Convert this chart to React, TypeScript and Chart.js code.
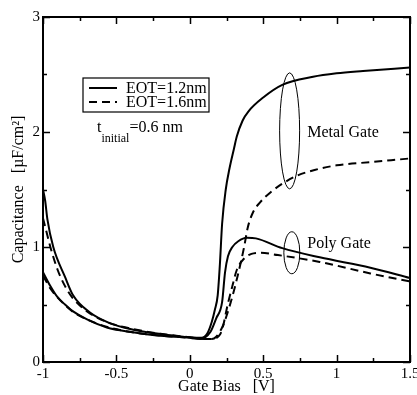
import React, { useEffect, useRef } from "react";
import { Chart, registerables } from "chart.js";

Chart.register(...registerables);

// ---- data (Gate bias [V] vs Capacitance [uF/cm2]) ----
const metal12V = [-1, -0.985, -0.97, -0.93, -0.85, -0.795, -0.68, -0.55, -0.45, -0.3, -0.115, 0, 0.08, 0.12, 0.15, 0.17, 0.19, 0.205, 0.22, 0.245, 0.27, 0.3, 0.32, 0.36, 0.4, 0.5, 0.63, 0.84, 1.0, 1.18, 1.5];
const metal12C = [1.5, 1.4, 1.24, 1.0, 0.74, 0.58, 0.43, 0.34, 0.3, 0.26, 0.23, 0.215, 0.21, 0.25, 0.35, 0.45, 0.58, 0.85, 1.2, 1.5, 1.68, 1.85, 1.96, 2.1, 2.18, 2.3, 2.41, 2.48, 2.51, 2.53, 2.56];

const metal16V = [-1, -0.97, -0.95, -0.9, -0.85, -0.8, -0.7, -0.55, -0.4, -0.2, 0, 0.1, 0.15, 0.18, 0.22, 0.25, 0.29, 0.33, 0.37, 0.395, 0.43, 0.48, 0.545, 0.63, 0.73, 0.85, 1.0, 1.25, 1.5];
const metal16C = [1.25, 1.1, 1.0, 0.8, 0.66, 0.56, 0.44, 0.34, 0.29, 0.245, 0.215, 0.2, 0.2, 0.22, 0.3, 0.4, 0.57, 0.77, 1.0, 1.17, 1.3, 1.39, 1.47, 1.55, 1.62, 1.67, 1.71, 1.74, 1.77];

const poly12V = [-1, -0.95, -0.905, -0.85, -0.795, -0.7, -0.565, -0.4, -0.225, 0, 0.07, 0.1, 0.14, 0.18, 0.22, 0.24, 0.26, 0.29, 0.33, 0.39, 0.45, 0.63, 0.885, 1.23, 1.5];
const poly12C = [0.78, 0.66, 0.57, 0.5, 0.44, 0.37, 0.3, 0.26, 0.23, 0.21, 0.2, 0.21, 0.26, 0.38, 0.52, 0.78, 0.92, 1.0, 1.05, 1.08, 1.075, 0.99, 0.91, 0.82, 0.73];

const poly16V = [-1, -0.95, -0.9, -0.8, -0.7, -0.55, -0.4, -0.2, 0, 0.1, 0.15, 0.2, 0.22, 0.26, 0.29, 0.32, 0.37, 0.42, 0.48, 0.6, 0.885, 1.23, 1.5];
const poly16C = [0.75, 0.64, 0.56, 0.44, 0.37, 0.3, 0.26, 0.23, 0.21, 0.2, 0.2, 0.23, 0.28, 0.51, 0.66, 0.8, 0.9, 0.94, 0.95, 0.93, 0.87, 0.77, 0.7];

const legendLabels = ["EOT=1.2nm", "EOT=1.6nm"];
const xTitle = "Gate Bias   [V]";
const yTitle = "Capacitance   [\u00B5F/cm\u00B2]";
const groupLabels = ["Metal Gate", "Poly Gate"];

const SERIF = "'Liberation Serif', 'Times New Roman', Times, serif";

function pts(xs: number[], ys: number[]) {
  return xs.map((x, i) => ({ x, y: ys[i] }));
}

const decorPlugin = {
  id: "decor",
  afterDatasetsDraw(chart: any) {
    const { ctx, chartArea: a, scales } = chart;
    const xs = scales.x;
    const ys = scales.y;
    ctx.save();
    ctx.strokeStyle = "#000";
    ctx.fillStyle = "#000";
    // frame
    ctx.lineWidth = 2;
    ctx.strokeRect(a.left, a.top, a.right - a.left, a.bottom - a.top);
    // ticks (inside, all four sides)
    ctx.lineWidth = 1.5;
    for (let i = 0; i <= 10; i++) {
      const v = -1 + i * 0.25;
      const px = Math.round(xs.getPixelForValue(v)) + 0.5;
      const len = i % 2 === 0 ? 7 : 4;
      ctx.beginPath();
      ctx.moveTo(px, a.bottom);
      ctx.lineTo(px, a.bottom - len);
      ctx.moveTo(px, a.top);
      ctx.lineTo(px, a.top + len);
      ctx.stroke();
    }
    for (let i = 0; i <= 6; i++) {
      const v = i * 0.5;
      const py = Math.round(ys.getPixelForValue(v)) + 0.5;
      const len = i % 2 === 0 ? 7 : 4;
      ctx.beginPath();
      ctx.moveTo(a.left, py);
      ctx.lineTo(a.left + len, py);
      ctx.moveTo(a.right, py);
      ctx.lineTo(a.right - len, py);
      ctx.stroke();
    }

    // legend box
    const bx = a.left + 40;
    const by = a.top + 61;
    ctx.lineWidth = 1.2;
    ctx.strokeRect(bx, by, 126, 34);
    ctx.lineWidth = 2;
    ctx.beginPath();
    ctx.moveTo(bx + 6, by + 10);
    ctx.lineTo(bx + 34, by + 10);
    ctx.stroke();
    ctx.setLineDash([8, 5]);
    ctx.beginPath();
    ctx.moveTo(bx + 6, by + 24);
    ctx.lineTo(bx + 34, by + 24);
    ctx.stroke();
    ctx.setLineDash([]);
    ctx.font = `16px ${SERIF}`;
    ctx.textBaseline = "alphabetic";
    ctx.textAlign = "left";
    ctx.fillText(legendLabels[0], bx + 43, by + 15);
    ctx.fillText(legendLabels[1], bx + 43, by + 29);

    // t_initial
    ctx.font = `16px ${SERIF}`;
    ctx.fillText("t", a.left + 54, a.top + 115);
    const tw = ctx.measureText("t").width;
    ctx.font = `12px ${SERIF}`;
    ctx.fillText("initial", a.left + 54 + tw, a.top + 125);
    const iw = ctx.measureText("initial").width;
    ctx.font = `16px ${SERIF}`;
    ctx.fillText("=0.6 nm", a.left + 54 + tw + iw, a.top + 115);

    // group ellipses
    ctx.lineWidth = 1;
    const e1x = xs.getPixelForValue(0.68);
    const e1y = ys.getPixelForValue(2.01);
    ctx.beginPath();
    ctx.ellipse(e1x, e1y, 10, 58, 0, 0, Math.PI * 2);
    ctx.stroke();
    const e2x = xs.getPixelForValue(0.695);
    const e2y = ys.getPixelForValue(0.95);
    ctx.beginPath();
    ctx.ellipse(e2x, e2y, 8, 21, 0, 0, Math.PI * 2);
    ctx.stroke();

    ctx.font = `16px ${SERIF}`;
    ctx.textBaseline = "middle";
    ctx.fillText(groupLabels[0], xs.getPixelForValue(0.8), ys.getPixelForValue(1.99));
    ctx.fillText(groupLabels[1], xs.getPixelForValue(0.8), ys.getPixelForValue(1.03));
    ctx.restore();
  },
};

export default function App() {
  const ref = useRef<HTMLCanvasElement | null>(null);

  useEffect(() => {
    document.body.style.margin = "0";
    const canvas = ref.current;
    if (!canvas) return;
    const solid = { borderColor: "#000", borderWidth: 2, pointRadius: 0, showLine: true, fill: false, cubicInterpolationMode: "monotone" as const };
    const dashed = { ...solid, borderDash: [8, 5] };
    const chart = new Chart(canvas, {
      type: "scatter",
      data: {
        datasets: [
          { label: "Metal EOT=1.2nm", data: pts(metal12V, metal12C), ...solid },
          { label: "Metal EOT=1.6nm", data: pts(metal16V, metal16C), ...dashed },
          { label: "Poly EOT=1.2nm", data: pts(poly12V, poly12C), ...solid },
          { label: "Poly EOT=1.6nm", data: pts(poly16V, poly16C), ...dashed },
        ],
      },
      options: {
        responsive: false,
        animation: false,
        devicePixelRatio: 1,
        layout: { padding: { left: 0, right: 7, top: 17, bottom: 0 } },
        plugins: { legend: { display: false }, tooltip: { enabled: false } },
        scales: {
          x: {
            type: "linear",
            min: -1,
            max: 1.5,
            grid: { display: false, drawTicks: false },
            border: { display: false },
            ticks: {
              stepSize: 0.5,
              color: "#000",
              padding: 3,
              maxRotation: 0,
              font: { family: SERIF, size: 15 },
              callback: (v: any) => String(v),
            },
            title: {
              display: true,
              text: xTitle,
              color: "#000",
              font: { family: SERIF, size: 16, lineHeight: 1 },
              padding: { top: 0, bottom: 0 },
            },
            afterFit: (s: any) => {
              s.height = 33;
              s.paddingLeft = 0;
              s.paddingRight = 0;
            },
          },
          y: {
            type: "linear",
            min: 0,
            max: 3,
            grid: { display: false, drawTicks: false },
            border: { display: false },
            ticks: {
              stepSize: 1,
              color: "#000",
              padding: 3,
              font: { family: SERIF, size: 15 },
            },
            title: {
              display: true,
              text: yTitle,
              color: "#000",
              font: { family: SERIF, size: 16, lineHeight: 1 },
              padding: { top: 11, bottom: 0 },
            },
            afterFit: (s: any) => {
              s.width = 43;
              s.paddingTop = 0;
              s.paddingBottom = 0;
            },
          },
        },
      },
      plugins: [decorPlugin],
    });
    return () => chart.destroy();
  }, []);

  return <canvas ref={ref} width={417} height={395} style={{ display: "block", width: 417, height: 395 }} />;
}
